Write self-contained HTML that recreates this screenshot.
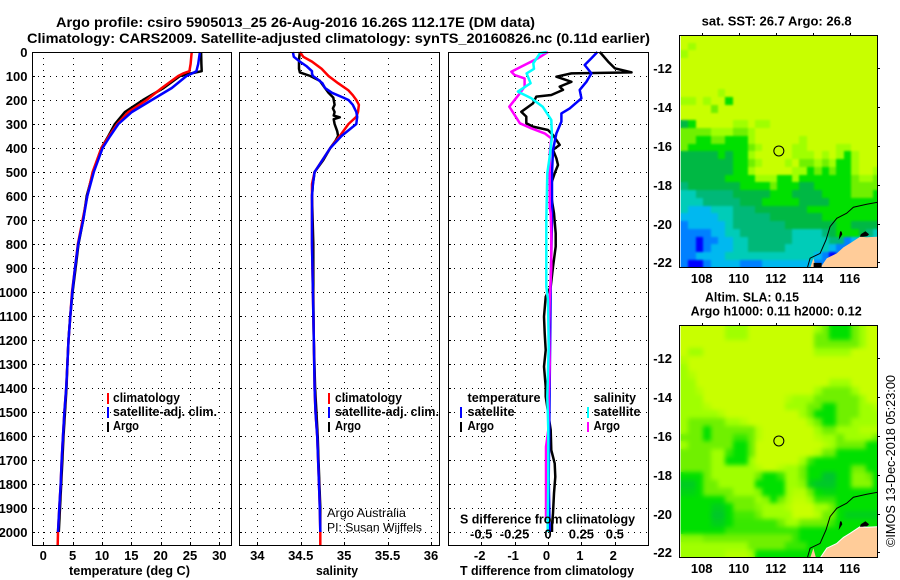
<!DOCTYPE html>
<html lang="en">
<head>
<meta charset="utf-8">
<title>Argo profile csiro 5905013_25</title>
<style>
html,body{margin:0;padding:0;background:#fff;}
svg{display:block;font-family:"Liberation Sans",sans-serif;}
text{fill:#000;font-weight:bold;}
.lbl{font-size:12.5px;}
.reg{font-weight:normal;}
</style>
</head>
<body>
<svg id="chart" xmlns="http://www.w3.org/2000/svg" width="900" height="580" viewBox="0 0 900 580">
  <defs>
    <filter id="blur-sla" x="-5%" y="-5%" width="110%" height="110%" color-interpolation-filters="sRGB"><feGaussianBlur stdDeviation="2.5"/></filter>
    <filter id="blur-sst" x="-5%" y="-5%" width="110%" height="110%" color-interpolation-filters="sRGB"><feGaussianBlur stdDeviation="1"/></filter>
  </defs>
  <rect x="0" y="0" width="900" height="580" fill="#fff"/>
  <g id="maps"></g>
  <g id="plots"></g>

  <text x="56" y="27" font-size="14" textLength="479" lengthAdjust="spacingAndGlyphs">Argo profile: csiro 5905013_25 26-Aug-2016 16.26S 112.17E (DM data)</text>
  <text x="27" y="43" font-size="14" textLength="623" lengthAdjust="spacingAndGlyphs">Climatology: CARS2009. Satellite-adjusted climatology: synTS_20160826.nc (0.11d earlier)</text>

  <text x="69" y="575" class="lbl" textLength="121" lengthAdjust="spacingAndGlyphs">temperature (deg C)</text>
  <text x="316" y="575" class="lbl" textLength="42" lengthAdjust="spacingAndGlyphs">salinity</text>
  <text x="460" y="575" class="lbl" textLength="174" lengthAdjust="spacingAndGlyphs">T difference from climatology</text>
  <text x="460" y="523.5" class="lbl" textLength="175" lengthAdjust="spacingAndGlyphs">S difference from climatology</text>

  <g>
    <line x1="108" x2="108" y1="393" y2="404" stroke="#f00" stroke-width="2"/>
    <text x="113" y="402" class="lbl" textLength="67" lengthAdjust="spacingAndGlyphs">climatology</text>
    <line x1="108" x2="108" y1="407" y2="418" stroke="#00f" stroke-width="2"/>
    <text x="113" y="416" class="lbl" textLength="104" lengthAdjust="spacingAndGlyphs">satellite-adj. clim.</text>
    <line x1="108" x2="108" y1="422" y2="432" stroke="#000" stroke-width="2"/>
    <text x="113" y="430" class="lbl" textLength="26" lengthAdjust="spacingAndGlyphs">Argo</text>
  </g>
  <g>
    <line x1="329" x2="329" y1="393" y2="404" stroke="#f00" stroke-width="2"/>
    <text x="335" y="402" class="lbl" textLength="67" lengthAdjust="spacingAndGlyphs">climatology</text>
    <line x1="329" x2="329" y1="407" y2="418" stroke="#00f" stroke-width="2"/>
    <text x="335" y="416" class="lbl" textLength="104" lengthAdjust="spacingAndGlyphs">satellite-adj. clim.</text>
    <line x1="329" x2="329" y1="422" y2="432" stroke="#000" stroke-width="2"/>
    <text x="335" y="430" class="lbl" textLength="26" lengthAdjust="spacingAndGlyphs">Argo</text>
    <text x="327" y="517" font-size="12" class="reg" textLength="79" lengthAdjust="spacingAndGlyphs">Argo Australia</text>
    <text x="327" y="531.5" font-size="12" class="reg" textLength="95" lengthAdjust="spacingAndGlyphs">PI: Susan Wijffels</text>
  </g>
  <g>
    <text x="467.5" y="402" class="lbl" textLength="73" lengthAdjust="spacingAndGlyphs">temperature</text>
    <text x="593.5" y="402" class="lbl" textLength="42.5" lengthAdjust="spacingAndGlyphs">salinity</text>
    <line x1="461" x2="461" y1="407" y2="418" stroke="#00f" stroke-width="2"/>
    <text x="467.5" y="416" class="lbl" textLength="47" lengthAdjust="spacingAndGlyphs">satellite</text>
    <line x1="461" x2="461" y1="422" y2="432" stroke="#000" stroke-width="2"/>
    <text x="467.5" y="430" class="lbl" textLength="26.5" lengthAdjust="spacingAndGlyphs">Argo</text>
    <line x1="588" x2="588" y1="407" y2="418" stroke="#0ff" stroke-width="2"/>
    <text x="593.5" y="416" class="lbl" textLength="47" lengthAdjust="spacingAndGlyphs">satellite</text>
    <line x1="588" x2="588" y1="422" y2="432" stroke="#f0f" stroke-width="2"/>
    <text x="593.5" y="430" class="lbl" textLength="26.5" lengthAdjust="spacingAndGlyphs">Argo</text>
  </g>

  <text x="701.7" y="25.7" class="lbl" textLength="150" lengthAdjust="spacingAndGlyphs">sat. SST: 26.7 Argo: 26.8</text>
  <text x="705" y="301.7" class="lbl" textLength="94" lengthAdjust="spacingAndGlyphs">Altim. SLA: 0.15</text>
  <text x="690.7" y="315.7" class="lbl" textLength="171" lengthAdjust="spacingAndGlyphs">Argo h1000: 0.11 h2000: 0.12</text>
  <text class="reg" font-size="13" transform="translate(895,547) rotate(-90)" textLength="172" lengthAdjust="spacingAndGlyphs">©IMOS 13-Dec-2018 05:23:00</text>
</svg>

<script>
/* ---------- profile data ---------- */
const depthTicks = [0,100,200,300,400,500,600,700,800,900,1000,1100,1200,1300,1400,1500,1600,1700,1800,1900,2000];
const tempTicks = [0,5,10,15,20,25,30];
const salTicks = [34,34.5,35,35.5,36];
const salTickLabels = ['34','34.5','35','35.5','36'];
const tDiffTicks = [-2,-1,0,1,2];
const sDiffTicks = [-0.5,-0.25,0,0.25,0.5];
const sDiffTickLabels = ['-0.5','-0.25','0','0.25','0.5'];

const tempDepths = [0,50,80,90,100,150,200,250,300,350,400,500,600,700,800,900,1000,1100,1200,1300,1400,1500,1600,1700,1800,1900,2000,2054];
const tempClim = [25.3,25.1,24.9,23.8,23.0,20.2,17.6,14.5,12.6,11.2,9.9,8.4,7.5,6.7,5.9,5.4,4.9,4.6,4.3,4.1,3.9,3.6,3.35,3.13,2.96,2.73,2.5,2.46];
const tempSat = [26.7,26.4,26.1,25.3,24.4,21.9,18.5,15.1,12.8,11.4,10.1,8.6,7.5,6.8,5.95,5.4,4.95,4.6,4.3,4.1,3.9,3.6,3.35,3.13,2.96,2.73,2.5];
const tempArgo = [26.9,26.95,27.0,25.0,23.3,20.5,17.0,13.9,12.2,11.1,9.9,8.5,7.4,6.8,6.0,5.5,5.0,4.6,4.3,4.1,3.95,3.7,3.45,3.25,3.05,2.85,2.65];

const salClimDepths = [0,20,40,70,100,130,160,180,200,220,250,270,300,350,400,500,550,600,800,1000,1200,1400,1500,1600,1700,1800,1900,2000,2054];
const salClim = [34.49,34.53,34.63,34.74,34.82,34.93,35.05,35.1,35.14,35.17,35.16,35.14,35.05,34.95,34.84,34.66,34.63,34.63,34.63,34.64,34.65,34.66,34.67,34.69,34.70,34.71,34.72,34.725,34.725];
const salSatDepths = [0,20,40,60,80,90,100,110,130,150,170,190,200,220,250,270,300,350,400,500,550,600,800,1000,1200,1400,1500,1600,1700,1800,1900,2000];
const salSat = [34.41,34.42,34.49,34.57,34.63,34.63,34.64,34.68,34.75,34.78,34.86,34.99,35.05,35.1,35.14,35.15,35.14,34.97,34.84,34.66,34.64,34.63,34.63,34.64,34.65,34.66,34.67,34.69,34.70,34.71,34.72,34.725];
const salArgoDepths = [0,30,70,85,100,120,150,170,190,220,235,250,265,272,280,300,330,350,370,400,450,500,550,600,800,1000,1200,1400,1500,1600,1700,1800,1900,2000];
const salArgo = [34.49,34.48,34.48,34.49,34.61,34.72,34.78,34.82,34.875,34.89,34.87,34.89,34.88,34.95,34.88,34.89,34.92,34.93,34.9,34.84,34.76,34.66,34.64,34.63,34.645,34.645,34.65,34.665,34.68,34.695,34.705,34.715,34.725,34.725];

const tDiffArgoDepths = [0,40,68,85,89,103,124,144,158,179,186,214,249,269,297,311,325,346,387,408,443,471,505,547,603,672,756,811,895,978,1020,1103,1172,1242,1311,1395,1436,1575,1659,1714,1770,1839,1922,1971,2000];
const tDiffArgo = [1.55,1.8,2.0,2.5,0.7,0.25,0.7,0.35,0.45,0.1,-0.35,-0.45,-0.8,-0.65,-0.65,-0.45,0,0.15,0.35,0.15,0.25,0.3,0.2,0.1,0.1,0.18,0.23,0.23,0.15,0.08,-0.07,-0.12,-0.1,-0.07,-0.12,-0.07,-0.07,0.08,0.1,0.2,0.22,0.18,0.15,0.12,0.12];
const tDiffSatDepths = [0,26,54,89,124,158,193,235,256,290,339,408,505,644,700,964,1145,1780,2000];
const tDiffSat = [1.48,1.3,1.1,1.3,1.15,0.95,1.0,0.65,0.4,0.4,0.25,0.15,0.12,0.12,0.12,0.08,0.07,0.02,0.05];
const sDiffArgoDepths = [0,26,61,82,96,110,144,172,228,262,297,318,339,360,422,505,644,672,756,895,1033,1145,1297,1436,1575,1645,1881,1950];
const sDiffArgo = [0,-0.075,-0.2,-0.275,-0.25,-0.175,-0.175,-0.21,-0.29,-0.25,-0.21,-0.125,-0.025,0.025,0.0125,0.0125,0.0125,0.02,0.025,0.025,0.0125,0.008,0.0125,0.005,0.0025,-0.015,-0.015,-0.015];
const sDiffSatDepths = [0,5,47,70,89,130,165,193,228,283,353,436,505,700,978,1033,1228,1436,1575,1780,1978,2000];
const sDiffSat = [-0.01,-0.06,-0.11,-0.105,-0.16,-0.13,-0.225,-0.125,-0.04,0.025,0.03,0.0125,-0.005,-0.0125,-0.0125,0,0.005,-0.005,0.0025,0.0025,-0.0025,-0.0025];

/* ---------- map data ---------- */
const lonTicks = [108,110,112,114,116];
const latTicks = [-12,-14,-16,-18,-20,-22];
const argoLon = 112.17;
const argoLat = -16.26;
const gridLonStart = 106.88;
const gridLatStart = -10.28;
const gridStep = 0.4;

const sstLevels = [
[0,0,0,0,0,0,0,0,0,0,0,0,0,0,0,0,0,0,0,0,0,0,0,0,0,0,0],
[0,1,0,0,0,0,0,0,0,0,0,0,0,0,0,0,0,0,0,0,0,0,0,0,0,0,0],
[1,0,0,0,0,0,0,0,0,0,0,0,0,0,0,0,0,0,0,0,0,0,0,0,0,0,0],
[0,0,0,0,0,0,0,0,0,0,0,0,0,0,0,0,0,0,0,0,0,0,0,0,0,0,0],
[0,0,0,0,0,0,0,0,0,0,0,0,0,0,0,0,0,0,0,0,0,0,0,0,0,0,0],
[0,0,0,0,0,0,0,0,0,0,0,0,0,0,0,0,0,0,0,0,0,0,0,0,0,0,0],
[0,0,0,0,0,0,0,0,0,0,0,0,0,0,0,0,0,0,0,0,0,0,0,0,0,0,0],
[0,0,0,0,0,1,0,0,0,0,0,0,0,0,0,0,0,0,0,0,0,0,0,0,0,0,0],
[1,1,0,1,0,0,3,0,0,0,0,0,0,0,0,0,0,0,0,0,0,0,0,0,0,0,0],
[0,0,0,0,2,0,0,0,0,0,0,0,0,0,0,0,0,0,0,0,0,0,0,0,0,0,0],
[0,0,0,0,0,0,0,0,0,0,0,0,0,0,0,0,0,0,0,0,0,0,0,0,0,0,0],
[4,3,0,0,0,0,0,1,1,0,1,1,0,0,0,0,0,0,0,0,0,0,0,0,0,0,0],
[2,2,2,2,1,1,1,2,2,1,0,0,0,0,0,0,0,0,0,0,0,0,0,0,0,0,0],
[2,2,3,3,2,2,3,3,3,1,0,0,0,0,0,0,1,0,0,0,0,0,0,0,0,0,0],
[2,3,3,3,3,3,3,3,3,2,1,0,0,0,0,1,1,0,0,0,0,1,1,0,0,0,0],
[4,4,4,4,4,3,4,3,3,1,0,0,0,0,0,1,1,1,0,1,0,1,3,1,0,0,0],
[4,4,4,4,4,4,4,3,3,2,1,0,0,0,1,0,2,2,1,2,1,3,3,1,0,0,0],
[4,4,4,4,4,4,4,3,3,1,0,0,0,0,0,1,1,3,2,3,2,3,3,1,0,0,1],
[4,4,4,4,4,4,3,3,3,3,1,1,1,3,3,1,3,3,3,3,3,3,3,2,1,1,2],
[5,4,4,4,4,4,4,4,3,3,3,3,2,3,3,3,4,4,3,3,3,3,3,2,2,2,2],
[6,6,5,5,5,5,5,4,4,4,4,4,3,3,3,4,4,4,4,3,3,3,3,2,2,2,3],
[6,6,6,5,5,5,5,5,4,4,4,3,3,3,3,3,4,4,4,4,3,3,3,3,3,3,3],
[6,7,7,7,6,6,6,5,5,5,4,4,4,4,4,4,4,3,3,3,3,3,3,3,3,3,3],
[7,7,7,7,7,6,6,5,5,5,5,5,4,4,4,4,4,4,4,3,3,3,3,3,3,3,3],
[8,7,7,7,7,7,6,5,5,5,5,5,5,5,4,4,4,4,4,4,4,3,3,4,4,4,4],
[8,8,8,8,7,7,6,6,5,5,5,5,5,5,5,6,6,6,6,5,4,3,3,3,4,5,6],
[8,8,9,8,8,7,7,6,6,5,5,5,5,5,5,6,6,6,6,6,5,5,8,7,7,7,7],
[8,8,9,8,7,7,7,6,6,5,5,5,5,5,6,6,6,6,6,6,7,8,8,7,7,7,7],
[8,8,7,7,7,7,6,6,6,6,6,6,6,6,6,6,6,6,7,8,9,8,8,8,8,8,8],
[8,9,9,8,7,7,7,7,8,8,8,7,7,7,7,7,7,7,8,8,9,8,8,8,8,8,8]
];

const slaLevels = [
[0,0,0,0,0,0,1,1,1,0,0,0,0,0,0,0,0,0,1,2,3,3,3,2,1,0,0],
[0,0,0,0,0,0,1,1,1,0,0,0,0,0,0,0,0,0,2,2,3,3,3,2,1,0,0],
[0,0,0,0,0,0,0,0,0,0,0,0,0,0,0,0,0,0,2,2,2,2,2,2,1,0,0],
[0,1,1,0,0,0,0,0,0,0,0,0,0,0,0,0,0,0,1,1,1,1,1,0,0,0,0],
[0.5,0,0,0,0,0,0,0,0,0,0,0,0,0,0,0,0,0,0,0,0,0,0,0,0,0,0],
[1,0,0,0,0,0,0,0,0,0,0,0,0,0,0,0,0,0,0,0,0,0,0,0,0,0,0],
[1,0.5,0,0,0,0,0,0,0,0,0,0,0,0,0,0,0,0,0,0,0,0,0,0,0,0,0],
[1,1,0,0,0,0,0,0,0,0,0,0,0,0,0,0,0,0,0,0,1,1,1,0,0,0,0],
[1,1,0.5,0,0,0,0,0,0,0,0,0,0,0,0,0,0,0,1,2,2,2,2,1,0,0,0],
[1,1,1,0,0,0,0,0,0,0,0,0,0,0,0.5,1,1,1,2,2,2,2,2,2,1,0,0],
[1,1,1,0.5,0,0,0,0,0,0,0,0,0,0,1,1,1,2,2,3,3,2,2,2,1,1,0.5],
[1,1,1,1,1,0.5,0,0,0,0,0,0,0,0,0,0,1,2,3,3,3,2,2,2,1,1,1],
[1,2,2,2,2,2,1,1,0.5,0,0,0,0,0,0,0,0,1,2,3,3,2,2,1,1,1,1],
[1,2,2,3,2,2,2,2,2,2,0.5,0,0,0,0,0,0,0,1,2,2,1,1,1,0.5,0.5,0.5],
[2,2,2,3,2,2,2,2.5,2.5,2,0.5,0,0,0,0,0,0,0,0.5,1,1,2,1,1,1,1,2],
[1,2,2,2,2,2,2,3,3,2,0,0,0,0,0,0,0,0,0,0.5,1,2,2,2,2,3,3],
[2,2,2,2,1,1,2.5,3,3,2,0,0,0,0,0,0,0,0,0.5,2,2,3,3,3,3,3,3],
[2,2,2,2,1,1,3,3,3,1,0,0,0,0,0,0,1,2.5,3,3,3,3,3,3,3,3,3],
[2,2,2,2,1,1,1,1,1,1,0.5,0,0,0.5,1,1,2,3,3,3,3,3,3,2,2,3,3],
[3,3,3,2,1,1,1,1,1,1,2,3,3,2.5,1,1,2,3,3,3.7,3.7,3,3,1.5,1.5,2,3],
[3.5,3.5,3,2,2,1,1,1,1,1,3,3,3,3,1,1,1.5,3.3,3.6,3.6,3.6,3,3,1.5,1.5,1.5,3],
[3.3,3.3,3,2,2,2,2,1,1,1,1.5,3,3,3,1,0.5,0.5,2,3,3.2,3.2,3,3,3,3,3,3],
[3,3,3,3,3,3,2,2,2,2,1,1.5,3,2,0.8,0.2,0.2,1,2.5,2.5,2.5,3,3,3,3,3,3],
[3,3,3,3,3.4,3.4,3,2,2,2,1.5,1,1,1,0.5,0,0,0,1,1,2,3,3,3,3,3,3],
[3,3,3,3,3.6,3.6,3,2.4,2.4,2.4,2,1,1,1,1,0,0,0,0.5,2,2,3,3.4,3.4,3.4,3.4,3.4],
[3,3,3,3,3.4,3.4,3,2.5,2.5,2.5,2.5,2.5,2.5,2,1,1,2,2,2,2,2.5,3,3,3,3,3,3],
[3,3,3,3,3,3,2.5,2.5,2.5,2.5,2.5,2.5,2.5,2.5,2.5,2.5,3,3,3,3,3,3,3,3,3,3,3],
[1.5,1.5,1.5,2,2,2,2,2,2,2,2,2,2,2,2,2.5,3,3,3,3,3,3,3,3,3,3,3],
[1,1,1,1,1,1,1,1,1,2,2,2,2,2,2.5,2.5,2.5,3,3,3,3,3,3,3,3,3,3],
[1,1,1,1,1,1,0.5,0.5,0.5,1,3,3,3,3,3,3,3,3,3,3,3,3,3,3,3,3,3]
];

const landLons = [117.6,116.92,116.56,116.02,115.66,115.3,114.76,114.4,117.6];
const landLats = [-20.68,-20.71,-20.68,-21.02,-21.23,-21.54,-21.79,-22.3,-22.3];
const isletLons = [114.04,113.86,114.18];
const isletLats = [-21.79,-22.3,-22.3];
const contourLons = [117.6,116.92,116.2,115.84,115.3,114.94,114.72,114.4,113.86,113.71];
const contourLats = [-18.89,-19.01,-19.16,-19.47,-19.73,-20.16,-20.85,-21.54,-21.79,-22.3];
const reefLons = [115.48,115.56,115.6,115.5,115.4,115.42];
const reefLats = [-20.4,-20.42,-20.55,-20.7,-20.85,-20.75];
const reef2Lons = [116.6,116.85,117.05,116.95,116.7,116.55];
const reef2Lats = [-20.55,-20.4,-20.55,-20.65,-20.68,-20.68];

/* ---------- helpers ---------- */
const NS = 'http://www.w3.org/2000/svg';
const plotsLayer = document.getElementById('plots');
const mapsLayer = document.getElementById('maps');
function mk(tag, attrs, parent, txt) {
  const el = document.createElementNS(NS, tag);
  for (const k in attrs) el.setAttribute(k, attrs[k]);
  if (txt !== undefined) el.textContent = txt;
  parent.appendChild(el);
  return el;
}
const PLOT_TOP = 52, PLOT_BOTTOM = 545;
const yDepth = d => PLOT_TOP + d * 0.24;
const xTemp = v => 43.3 + v * 5.867;
const xSal = v => 257.3 + (v - 34) * 86.85;
const xTDiff = v => 548 + v * 33.4;
const xSDiff = v => 548 + v * 133.6;

function drawPanel(name, left, right, xTicksPx, showDepthLabels) {
  const g = mk('g', {}, plotsLayer);
  
  
  depthTicks.forEach(d => {
    const y = Math.round(yDepth(d)) + 0.5;
    const gl = mk('line', {x1:left, x2:right, y1:y, y2:y, stroke:'#000', 'stroke-width':1, 'stroke-dasharray':'1 5', 'shape-rendering':'crispEdges'}, g);
    
    
    const tk = mk('line', {x1:left, x2:left + 3, y1:y, y2:y, stroke:'#000', 'stroke-width':1, 'shape-rendering':'crispEdges'}, g);
    
    
    if (showDepthLabels) {
      const tl = mk('text', {x:27.5, y:y + 4.5, 'text-anchor':'end', 'font-size':13}, g, String(d));
      
      
    }
  });
  xTicksPx.forEach(px => {
    const x = Math.round(px) + 0.5;
    const gl = mk('line', {x1:x, x2:x, y1:PLOT_TOP, y2:PLOT_BOTTOM, stroke:'#000', 'stroke-width':1, 'stroke-dasharray':'1 5', 'shape-rendering':'crispEdges'}, g);
    
    
    const tk = mk('line', {x1:x, x2:x, y1:PLOT_BOTTOM - 3, y2:PLOT_BOTTOM, stroke:'#000', 'stroke-width':1, 'shape-rendering':'crispEdges'}, g);
    
    
  });
  return g;
}
function drawFrame(g, name, left, right) {
  const f = mk('rect', {x:left + 0.5, y:PLOT_TOP + 0.5, width:right - left, height:PLOT_BOTTOM - PLOT_TOP, fill:'none', stroke:'#000', 'stroke-width':1, 'shape-rendering':'crispEdges'}, g);
  
  
}
function xLabel(g, name, x, y, s) {
  const t = mk('text', {x:x, y:y, 'text-anchor':'middle', 'font-size':13}, g, s);
  
  
}
function drawSeries(g, name, values, depths, xFn, color, w) {
  const pts = values.map((v, i) => xFn(v).toFixed(1) + ',' + yDepth(depths[i]).toFixed(1)).join(' ');
  const p = mk('polyline', {points:pts, fill:'none', stroke:color, 'stroke-width':w || 2.5, 'stroke-linejoin':'round'}, g);
  
  
}

/* ---------- panels ---------- */
const tempPanel = drawPanel('temperature', 32, 231, tempTicks.map(xTemp), true);
drawSeries(tempPanel, 'temperature-argo-line', tempArgo, tempDepths, xTemp, '#000');
drawSeries(tempPanel, 'temperature-climatology-line', tempClim, tempDepths, xTemp, '#f00');
drawSeries(tempPanel, 'temperature-satellite-line', tempSat, tempDepths, xTemp, '#00f');
drawFrame(tempPanel, 'temperature', 32, 231);
tempTicks.forEach(v => xLabel(tempPanel, 'temperature-tick-label', xTemp(v), 560, String(v)));

const salPanel = drawPanel('salinity', 239, 439, salTicks.map(xSal), false);
drawSeries(salPanel, 'salinity-argo-line', salArgo, salArgoDepths, xSal, '#000');
drawSeries(salPanel, 'salinity-climatology-line', salClim, salClimDepths, xSal, '#f00');
drawSeries(salPanel, 'salinity-satellite-line', salSat, salSatDepths, xSal, '#00f');
drawFrame(salPanel, 'salinity', 239, 439);
salTicks.forEach((v, i) => xLabel(salPanel, 'salinity-tick-label', xSal(v), 560, salTickLabels[i]));

const diffPanel = drawPanel('difference', 448, 648, tDiffTicks.map(xTDiff), false);
drawSeries(diffPanel, 't-diff-argo-line', tDiffArgo, tDiffArgoDepths, xTDiff, '#000');
drawSeries(diffPanel, 't-diff-satellite-line', tDiffSat, tDiffSatDepths, xTDiff, '#00f');
drawSeries(diffPanel, 's-diff-argo-line', sDiffArgo, sDiffArgoDepths, xSDiff, '#f0f');
drawSeries(diffPanel, 's-diff-satellite-line', sDiffSat, sDiffSatDepths, xSDiff, '#0ff');
drawFrame(diffPanel, 'difference', 448, 648);
tDiffTicks.forEach(v => xLabel(diffPanel, 't-diff-tick-label', xTDiff(v) - 1.5, 560, String(v)));
sDiffTicks.forEach((v, i) => xLabel(diffPanel, 's-diff-tick-label', xSDiff(v), 538.5, sDiffTickLabels[i]));

/* ---------- maps ---------- */
function levelColor(v) {
  const stops = [[200,255,0],[160,255,0],[112,240,0],[0,224,0],[0,184,68],[0,184,120],[0,204,184],[0,184,240],[0,128,255],[0,0,255]];
  const i = Math.min(Math.floor(v), stops.length - 2);
  const f = v - i;
  const c = stops[i].map((s, k) => Math.round(s + (stops[i + 1][k] - s) * f));
  return 'rgb(' + c.join(',') + ')';
}
function drawMap(name, top, levels, yOffset, labelBaseline, blob) {
  const left = 680, right = 877, bottom = top + 232;
  const xLon = lon => 701.7 + (lon - 108) * 18.5;
  const yLat = lat => 68.3 + yOffset + (-12 - lat) * 19.4;
  const g = mk('g', {}, mapsLayer);
  
  
  const clipId = name + '-clip';
  const defs = mk('defs', {}, g);
  const cp = mk('clipPath', {id:clipId}, defs);
  mk('rect', {x:left, y:top, width:right - left, height:bottom - top}, cp);
  const inner = mk('g', {'clip-path':'url(#' + clipId + ')'}, g);
  const cells = mk('g', {id:name + '-cells'}, inner);
  
  
  levels.forEach((row, r) => row.forEach((v, c) => {
    const lon0 = gridLonStart + c * gridStep, lat0 = gridLatStart - r * gridStep;
    const x0 = Math.round(xLon(lon0)), x1 = Math.round(xLon(lon0 + gridStep));
    const y0 = Math.round(yLat(lat0)), y1 = Math.round(yLat(lat0 - gridStep));
    const cell = mk('rect', {x:x0, y:y0, width:x1 - x0, height:y1 - y0, fill:levelColor(v), 'shape-rendering':'crispEdges'}, cells);
    
    
  }));
  const soft = mk('use', {href:'#' + name + '-cells', filter:'url(#blur-' + name + ')'}, inner);
  
  
  const poly = (lons, lats) => lons.map((l, i) => xLon(l).toFixed(1) + ',' + yLat(lats[i]).toFixed(1)).join(' ');
  const land = mk('polygon', {points:poly(landLons, landLats), fill:'#ffcc99'}, inner);
  
  
  const islet = mk('polygon', {points:poly(isletLons, isletLats), fill:'#ffcc99'}, inner);
  
  
  const coast = mk('polyline', {points:poly(landLons.slice(0, 8), landLats.slice(0, 8)), fill:'none', stroke:blob ? 'none' : '#fff', 'stroke-width':1}, inner);
  
  
  const reef1 = mk('polygon', {points:poly(reefLons, reefLats), fill:'#000'}, inner);
  
  
  const reef2 = mk('polygon', {points:poly(reef2Lons, reef2Lats), fill:'#000'}, inner);
  
  
  const contour = mk('polyline', {points:poly(contourLons, contourLats), fill:'none', stroke:'#000', 'stroke-width':1}, inner);
  
  
  if (blob) {
    const b = mk('rect', {x:xLon(114.05), y:yLat(-22.03), width:8, height:6, fill:'#000'}, inner);
    
    
  }
  const marker = mk('circle', {cx:xLon(argoLon), cy:yLat(argoLat), r:5, fill:'none', stroke:'#000', 'stroke-width':1}, g);
  
  
  const frame = mk('rect', {x:679.5, y:top + 0.5, width:198, height:232, fill:'none', stroke:'#000', 'stroke-width':1, 'shape-rendering':'crispEdges'}, g);
  
  
  lonTicks.forEach(l => {
    const x = Math.round(xLon(l)) + 0.5;
    const t = mk('line', {x1:x, x2:x, y1:top - 2, y2:top, stroke:'#000', 'stroke-width':1, 'shape-rendering':'crispEdges'}, g);
    
    
    const lb = mk('text', {x:xLon(l), y:labelBaseline, 'text-anchor':'middle', 'font-size':13}, g, String(l));
    
    
  });
  latTicks.forEach(l => {
    const y = Math.round(yLat(l)) + 0.5;
    const t = mk('line', {x1:878, x2:880, y1:y, y2:y, stroke:'#000', 'stroke-width':1, 'shape-rendering':'crispEdges'}, g);
    
    
    const lb = mk('text', {x:672, y:y + 4.5, 'text-anchor':'end', 'font-size':13}, g, String(l));
    
    
  });
}
drawMap('sst', 35, sstLevels, 0, 283, true);
drawMap('sla', 325, slaLevels, 290, 573, false);
</script>
</body>
</html>
